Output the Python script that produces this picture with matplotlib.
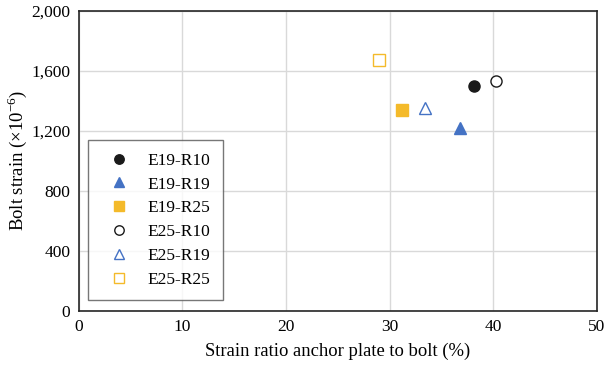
import matplotlib.pyplot as plt
import numpy as np

plt.rcParams['font.family'] = ['Liberation Serif', 'DejaVu Serif']
plt.rcParams['mathtext.fontset'] = 'custom'
plt.rcParams['mathtext.rm'] = 'Liberation Serif'

labels = ["E19-R10", "E19-R19", "E19-R25", "E25-R10", "E25-R19", "E25-R25"]
strain_ratio = [38.1, 36.8, 31.2, 40.3, 33.4, 29.0]   # %
bolt_strain = [1500, 1220, 1340, 1530, 1350, 1670]    # x10^-6

markers = ["o", "^", "s", "o", "^", "s"]
colors = ["#1a1a1a", "#4472C4", "#F4BA2A", "#1a1a1a", "#4472C4", "#F4BA2A"]
filled = [True, True, True, False, False, False]

fig, ax = plt.subplots(figsize=(6.06, 3.65), dpi=100)
fig.subplots_adjust(left=0.13, right=0.985, top=0.97, bottom=0.148)

for lab, x, y, m, c, f in zip(labels, strain_ratio, bolt_strain, markers, colors, filled):
    ax.plot(x, y, linestyle="none", marker=m, markersize=8,
            markerfacecolor=c if f else "white", markeredgecolor=c,
            markeredgewidth=1.0, label=lab)

ax.set_xlim(0, 50)
ax.set_ylim(0, 2000)
ax.set_xticks(np.arange(0, 51, 10))
ax.set_yticks(np.arange(0, 2001, 400))
ax.set_yticklabels([f"{v:,}" for v in range(0, 2001, 400)])
ax.tick_params(length=0, labelsize=12.5, pad=6)
ax.grid(True, color="#d9d9d9", linewidth=1)
ax.set_axisbelow(True)
for s in ax.spines.values():
    s.set_color("#262626")
    s.set_linewidth(1.2)

ax.set_xlabel("Strain ratio anchor plate to bolt (%)", fontsize=13.4, labelpad=5)
ax.set_ylabel("Bolt strain (×10$^{\\mathrm{-6}}$)", fontsize=13.5, labelpad=2)

leg = ax.legend(loc="lower left", bbox_to_anchor=(0.017, 0.037), borderaxespad=0,
                fontsize=12.5, frameon=True, fancybox=False, edgecolor="#555555",
                handletextpad=0.57, borderpad=0.7, labelspacing=0.44,
                handlelength=2.2, markerscale=0.85)
leg.get_frame().set_linewidth(1.0)

plt.savefig("out.png", dpi=100)
